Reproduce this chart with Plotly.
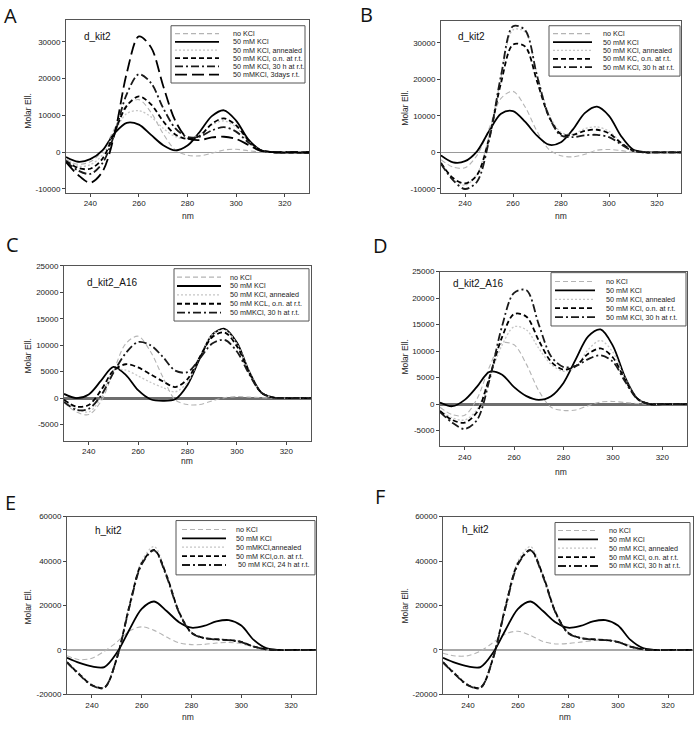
import plotly.graph_objects as go

W, H = 697, 730

# ---------------- data ----------------
wavelength = [230, 235, 240, 245, 250, 255, 260, 265, 270, 275, 280,
              285, 290, 295, 300, 305, 310, 315, 320, 325, 330]
x_tickvals = [240, 260, 280, 300, 320]

# Panel A  (d_kit2)
a_no_kcl   = [-2000, -3300, -2600, 400, 6500, 12800, 14300, 10800, 5000, 600, -800, -1000, -300, 600, 800, 400, 100, 0, 0, 0, 0]
a_kcl      = [-1300, -2600, -1900, 500, 5200, 8000, 7500, 4700, 1900, 500, 1800, 5500, 9800, 11400, 8600, 3500, 600, 0, -100, -100, -200]
a_annealed = [-1800, -3800, -3400, -700, 5600, 10500, 11300, 9600, 6500, 4200, 3700, 4800, 7400, 8500, 6800, 3000, 500, 0, 0, 0, 0]
a_on       = [-2300, -4300, -4500, -1800, 5500, 12600, 15200, 13000, 8400, 4800, 3600, 4400, 7700, 9200, 7300, 3300, 600, 0, -100, -100, -100]
a_30h      = [-2500, -5000, -5900, -3000, 5000, 15800, 21200, 18800, 12000, 6500, 4100, 4200, 5900, 6800, 5600, 2700, 500, 0, 0, 0, 0]
a_3days    = [-2700, -6200, -8300, -5300, 5000, 21500, 31500, 28500, 18000, 8500, 3800, 3300, 4000, 4200, 3600, 2000, 400, 0, 0, 0, 0]
a_labels = ["no KCl", "50 mM KCl", "50 mM KCl, annealed", "50 mM KCl, o.n. at r.t.",
            "50 mM KCl, 30 h at r.t.", "50 mMKCl, 3days r.t."]

# Panel B  (d_kit2)
b_no_kcl   = [-2000, -4000, -4200, -800, 6500, 14800, 16700, 12500, 5800, 800, -900, -1200, -500, 600, 800, 500, 100, 0, 0, 0, 0]
b_kcl      = [-800, -2700, -2400, 300, 5800, 10600, 11300, 8400, 4600, 2100, 2800, 6300, 10800, 12500, 10000, 4500, 800, 100, 0, 0, 0]
b_annealed = [-2600, -7200, -9000, -6000, 4500, 20500, 33500, 33000, 21500, 10500, 5500, 5000, 6500, 7000, 5800, 2800, 500, 0, 0, 0, 0]
b_on       = [-2900, -7000, -8500, -6200, 3800, 19000, 29500, 29000, 19500, 9800, 5000, 4800, 5900, 6200, 5200, 2600, 500, 0, 0, 0, 0]
b_30h      = [-3100, -7600, -10000, -8000, 3200, 21000, 34500, 33500, 21000, 9800, 4600, 4200, 4700, 4800, 4200, 2200, 400, 0, 0, 0, 0]
b_labels = ["no KCl", "50 mM KCl", "50 mM KCl, annealed", "50 mM KC, o.n. at r.t.",
            "50 mM KCl, 30 h at r.t."]

# Panel C  (d_kit2_A16)
c_no_kcl   = [-800, -2600, -3100, -600, 5000, 10300, 11700, 8800, 4000, -300, -1200, -1200, -500, 100, 300, 200, 100, 0, 0, 0, 0]
c_kcl      = [800, 0, 700, 3300, 5900, 4400, 1500, -200, -500, -200, 2500, 7500, 12000, 13100, 10500, 5000, 1000, 100, 0, 0, 0]
c_annealed = [-500, -2000, -2600, 0, 5200, 5300, 4200, 3000, 2000, 1200, 3000, 7800, 12000, 12900, 10300, 5000, 1000, 100, 0, 0, 0]
c_on       = [-300, -1600, -1300, 1500, 5200, 6400, 5800, 4500, 3200, 2100, 3600, 7800, 11500, 12400, 9800, 4800, 1000, 100, 0, 0, 0]
c_30h      = [-700, -2200, -2000, 500, 4800, 8500, 10600, 10000, 7800, 5200, 4900, 7500, 10300, 11000, 8800, 4500, 1000, 100, 0, 0, 0]
c_labels = ["no KCl", "50 mM KCl", "50 mM KCl, annealed", "50 mM KCL, o.n. at r.t.",
            "50 mMKCl, 30 h at r.t."]

# Panel D  (d_kit2_A16)
d_no_kcl   = [-600, -2000, -2100, 1000, 7000, 11500, 11200, 7500, 2500, -600, -1200, -1100, -300, 400, 500, 300, 100, 0, 0, 0, 0]
d_kcl      = [300, -400, 800, 3300, 6100, 5600, 3200, 1500, 800, 1500, 4000, 8500, 12800, 14100, 11000, 5000, 1000, 0, 0, 0, 0]
d_annealed = [-1200, -2600, -3000, -1000, 5000, 11000, 14600, 14000, 10500, 7500, 6200, 7000, 10300, 12000, 9800, 4800, 1000, 0, 0, 0, 0]
d_on       = [-1300, -3000, -3500, -1500, 5000, 12500, 17000, 16500, 12000, 8000, 6500, 7200, 9500, 10500, 8800, 4500, 1000, 0, 0, 0, 0]
d_30h      = [-1500, -3500, -4700, -3000, 4500, 14500, 21000, 21500, 15000, 9000, 7000, 7200, 8500, 9200, 8000, 4200, 900, 0, 0, 0, 0]
d_labels = ["no KCl", "50 mM KCl", "50 mM KCl, annealed", "50 mM KCl, o.n. at r.t.",
            "50 mM KCl, 30 h at r.t."]

# Panel E  (h_kit2)
e_no_kcl   = [-2600, -4400, -3700, -600, 3500, 8500, 10400, 8800, 5800, 3200, 2400, 2500, 3100, 3400, 2800, 1400, 300, 0, 0, 0, 0]
e_kcl      = [-3500, -5800, -7400, -7700, -1300, 9000, 18500, 21800, 17500, 12500, 10000, 10800, 12800, 13400, 11000, 4500, 800, 0, 0, 0, 0]
e_annealed = [-5300, -10500, -15500, -16800, -3500, 20000, 40000, 46500, 34000, 17500, 8000, 5600, 4900, 4600, 3700, 1600, 300, 0, 0, 0, 0]
e_on       = [-5500, -11000, -15800, -17000, -3800, 19500, 39000, 45000, 33500, 17000, 7800, 5400, 4800, 4500, 3600, 1500, 300, 0, 0, 0, 0]
e_24h      = [-5600, -11200, -16000, -17000, -3800, 19000, 38500, 44800, 33000, 16800, 7600, 5300, 4700, 4400, 3500, 1500, 300, 0, 0, 0, 0]
e_labels = ["no KCl", "50 mM KCl", "50 mMKCl,annealed", "50 mM KCl,o.n. at r.t.",
            " 50 mM KCl, 24 h at r.t."]

# Panel F  (h_kit2)
f_no_kcl   = [-1500, -2700, -2600, -500, 3300, 7200, 8400, 6500, 3800, 2700, 2900, 3500, 4200, 4500, 3800, 2000, 400, 0, 0, 0, 0]
f_kcl      = [-3500, -5800, -7400, -7700, -1300, 9000, 18500, 21800, 17500, 12500, 10000, 10800, 12800, 13400, 11000, 4500, 800, 0, 0, 0, 0]
f_annealed = [-5300, -10500, -15500, -16800, -3500, 20000, 40000, 46500, 34000, 17500, 8000, 5600, 4900, 4600, 3700, 1600, 300, 0, 0, 0, 0]
f_on       = [-5500, -11000, -15800, -17000, -3800, 19500, 39000, 45000, 33500, 17000, 7800, 5400, 4800, 4500, 3600, 1500, 300, 0, 0, 0, 0]
f_30h      = [-5600, -11200, -16000, -17000, -3800, 19000, 38500, 44800, 33000, 16800, 7600, 5300, 4700, 4400, 3500, 1500, 300, 0, 0, 0, 0]
f_labels = ["no KCl", "50 mM KCl", "50 mM KCl, annealed", "50 mM KCl, o.n. at r.t.",
            "50 mM KCl, 30 h at r.t."]

ab_yticks = [-10000, 0, 10000, 20000, 30000]
cd_yticks = [-5000, 0, 5000, 10000, 15000, 20000, 25000]
ef_yticks = [-20000, 0, 20000, 40000, 60000]

# ---------------- styles ----------------
STYLE = {
    "none": dict(color="#b4b4b4", width=1.1, dash="5px,3px"),
    "kcl":  dict(color="#000000", width=1.8, dash="solid"),
    "ann":  dict(color="#c6c6c6", width=1.3, dash="2px,2px"),
    "on":   dict(color="#000000", width=1.8, dash="5px,3px"),
    "dd":   dict(color="#1a1a1a", width=1.8, dash="8px,3px,2px,3px"),
    "long": dict(color="#000000", width=1.8, dash="12px,5px"),
}

FONT = "Liberation Sans, Arial, sans-serif"


def fx(p):
    return p / W


def fy(p):
    return 1 - p / H


panels = [
    dict(letter="A", letter_xy=(10, 12), name="d_kit2", name_xy=(82, 33),
         box=(66, 309, 16, 191), yrange=[-11000, 36000], yticks=ab_yticks,
         series=[(a_no_kcl, "none"), (a_kcl, "kcl"), (a_annealed, "ann"),
                 (a_on, "on"), (a_30h, "dd"), (a_3days, "long")],
         labels=a_labels,
         legend=dict(box=(171, 305, 22, 80), sample=(175, 219), text=231, row0=30, dy=8.3),
         zero=("#9a9a9a", 1.4), ytitle=(28, 108), xtitle=(188, 215)),
    dict(letter="B", letter_xy=(366, 11), name="d_kit2", name_xy=(456, 33),
         box=(441, 681, 17, 191), yrange=[-11000, 36000], yticks=ab_yticks,
         series=[(b_no_kcl, "none"), (b_kcl, "kcl"), (b_annealed, "ann"),
                 (b_on, "on"), (b_30h, "dd")],
         labels=b_labels,
         legend=dict(box=(549, 680, 22, 73), sample=(553, 592), text=601, row0=30, dy=8.5),
         zero=("#9a9a9a", 1.4), ytitle=(405, 106), xtitle=(561, 215)),
    dict(letter="C", letter_xy=(12, 244), name="d_kit2_A16", name_xy=(85, 282),
         box=(64, 311, 265, 442), yrange=[-8000, 25000], yticks=cd_yticks,
         series=[(c_no_kcl, "none"), (c_kcl, "kcl"), (c_annealed, "ann"),
                 (c_on, "on"), (c_30h, "dd")],
         labels=c_labels,
         legend=dict(box=(174, 309, 268, 321), sample=(177, 221), text=228, row0=276.5, dy=9),
         zero=("#6e6e6e", 2.5), ytitle=(28, 356), xtitle=(187, 463)),
    dict(letter="D", letter_xy=(380, 245), name="d_kit2_A16", name_xy=(451, 283),
         box=(440, 687, 271, 448), yrange=[-8000, 25000], yticks=cd_yticks,
         series=[(d_no_kcl, "none"), (d_kcl, "kcl"), (d_annealed, "ann"),
                 (d_on, "on"), (d_30h, "dd")],
         labels=d_labels,
         legend=dict(box=(551, 686, 272, 326), sample=(555, 595), text=604, row0=281, dy=9),
         zero=("#6e6e6e", 2.5), ytitle=(405, 358), xtitle=(561, 474)),
    dict(letter="E", letter_xy=(10, 505), name="h_kit2", name_xy=(93, 533),
         box=(67, 316, 519, 699), yrange=[-20000, 60000], yticks=ef_yticks,
         series=[(e_no_kcl, "none"), (e_kcl, "kcl"), (e_annealed, "ann"),
                 (e_on, "on"), (e_24h, "dd")],
         labels=e_labels,
         legend=dict(box=(176, 315, 523, 578), sample=(182, 226), text=234, row0=532, dy=9),
         zero=("#a8a8a8", 2.0), ytitle=(28, 610), xtitle=(188, 722)),
    dict(letter="F", letter_xy=(380, 499), name="h_kit2", name_xy=(460, 532),
         box=(443, 693, 519, 699), yrange=[-20000, 60000], yticks=ef_yticks,
         series=[(f_no_kcl, "none"), (f_kcl, "kcl"), (f_annealed, "ann"),
                 (f_on, "on"), (f_30h, "dd")],
         labels=f_labels,
         legend=dict(box=(555, 690, 525, 578), sample=(558, 598), text=607, row0=533, dy=9),
         zero=("#a8a8a8", 2.0), ytitle=(405, 610), xtitle=(565, 722)),
]

fig = go.Figure()
layout = dict(width=W, height=H, margin=dict(l=0, r=0, t=0, b=0),
              paper_bgcolor="white", plot_bgcolor="white", showlegend=False,
              font=dict(family=FONT, color="#222"))
annotations = []
shapes = []

for i, p in enumerate(panels, start=1):
    sfx = "" if i == 1 else str(i)
    x0, x1, y0, y1 = p["box"]
    for (vals, st), lab in zip(p["series"], p["labels"]):
        fig.add_trace(go.Scatter(
            x=wavelength, y=vals, mode="lines", name=lab.strip(),
            line=dict(shape="spline", smoothing=0.9, **STYLE[st]),
            xaxis="x" + sfx, yaxis="y" + sfx, hoverinfo="skip"))

    layout["xaxis" + sfx] = dict(
        domain=[fx(x0), fx(x1)], range=[230, 330], anchor="y" + sfx,
        showline=True, mirror=True, linecolor="#555", linewidth=1,
        ticks="outside", ticklen=3, tickcolor="#444",
        tickvals=x_tickvals, ticktext=[str(v) for v in x_tickvals],
        tickfont=dict(size=8, family=FONT, color="#222"),
        showgrid=False, zeroline=False)
    layout["yaxis" + sfx] = dict(
        domain=[fy(y1), fy(y0)], range=p["yrange"], anchor="x" + sfx,
        showline=True, mirror=True, linecolor="#555", linewidth=1,
        ticks="outside", ticklen=3, tickcolor="#444",
        tickvals=p["yticks"], ticktext=[str(v) for v in p["yticks"]],
        tickfont=dict(size=8, family=FONT, color="#222"),
        showgrid=False, zeroline=True, zerolinecolor=p["zero"][0],
        zerolinewidth=p["zero"][1])

    # panel letter
    lx, ly = p["letter_xy"]
    annotations.append(dict(text=p["letter"], x=fx(lx), y=fy(ly), xref="paper", yref="paper",
                            showarrow=False, xanchor="center", yanchor="middle",
                            font=dict(size=20, family="Open Sans, Liberation Sans, sans-serif", color="#111")))
    # inner sample name
    nx, ny = p["name_xy"]
    annotations.append(dict(text=p["name"], x=fx(nx), y=fy(ny), xref="paper", yref="paper",
                            showarrow=False, xanchor="left", yanchor="middle",
                            font=dict(size=10, family=FONT, color="#111")))
    # axis titles
    tx, ty = p["ytitle"]
    annotations.append(dict(text="Molar Ell.", x=fx(tx), y=fy(ty), xref="paper", yref="paper",
                            showarrow=False, textangle=-90, xanchor="center", yanchor="middle",
                            font=dict(size=8.5, family=FONT, color="#222")))
    tx, ty = p["xtitle"]
    annotations.append(dict(text="nm", x=fx(tx), y=fy(ty), xref="paper", yref="paper",
                            showarrow=False, xanchor="center", yanchor="middle",
                            font=dict(size=8.5, family=FONT, color="#222")))

    # legend box
    lg = p["legend"]
    bx0, bx1, by0, by1 = lg["box"]
    shapes.append(dict(type="rect", xref="paper", yref="paper",
                       x0=fx(bx0), x1=fx(bx1), y0=fy(by1), y1=fy(by0),
                       line=dict(color="#555", width=1), fillcolor="white", layer="above"))
    for k, ((vals, st), lab) in enumerate(zip(p["series"], p["labels"])):
        ry = lg["row0"] + k * lg["dy"]
        sx0, sx1 = lg["sample"]
        shapes.append(dict(type="line", xref="paper", yref="paper",
                           x0=fx(sx0), x1=fx(sx1), y0=fy(ry), y1=fy(ry),
                           line=STYLE[st], layer="above"))
        annotations.append(dict(text=lab, x=fx(lg["text"]), y=fy(ry), xref="paper", yref="paper",
                                showarrow=False, xanchor="left", yanchor="middle",
                                font=dict(size=7.2, family=FONT, color="#222")))

layout["annotations"] = annotations
layout["shapes"] = shapes
fig.update_layout(**layout)
fig.write_html("out.html",
               config={"displayModeBar": False},
               post_script="document.body.style.margin='0';document.body.style.padding='0';")
